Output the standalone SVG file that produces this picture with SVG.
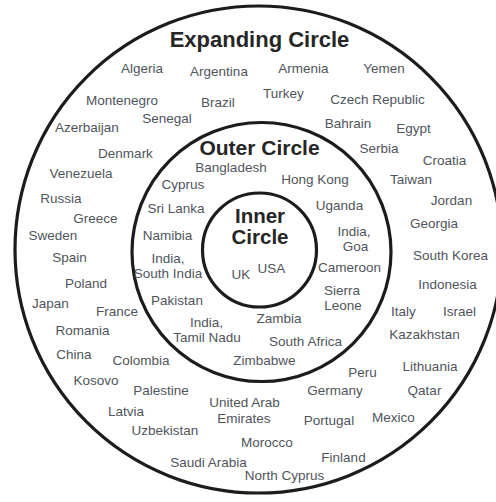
<svg xmlns="http://www.w3.org/2000/svg" width="496" height="502" viewBox="0 0 496 502">
<style>
.ring{fill:none;stroke:#1c1c1c;stroke-width:3.2}
.t{font-family:"Liberation Sans",Arial,sans-serif;font-size:13.5px;fill:#50555c;text-anchor:middle}
.h{font-family:"Liberation Sans",Arial,sans-serif;font-weight:bold;fill:#262626;text-anchor:middle}
</style>
<rect width="496" height="502" fill="#ffffff"/>
<g id="expanding-circle">
<circle class="ring" cx="258.5" cy="249.5" r="243.5"/>
<text class="h" x="259.5" y="47" font-size="22">Expanding Circle</text>
</g>
<g id="outer-circle">
<circle class="ring" cx="261.5" cy="252" r="129.5"/>
<text class="h" x="259.5" y="155" font-size="21">Outer Circle</text>
</g>
<g id="inner-circle">
<circle class="ring" cx="259.5" cy="250" r="57"/>
<text class="h" x="260" y="223" font-size="20.5">Inner</text>
<text class="h" x="260" y="244" font-size="20.5">Circle</text>
</g>
<g id="inner-labels">
<text class="t" x="271.5" y="273">USA</text>
<text class="t" x="241" y="279">UK</text>
</g>
<g id="outer-labels">
<text class="t" x="231" y="172">Bangladesh</text>
<text class="t" x="183" y="189">Cyprus</text>
<text class="t" x="315" y="184">Hong Kong</text>
<text class="t" x="176" y="213">Sri Lanka</text>
<text class="t" x="339.5" y="210">Uganda</text>
<text class="t" x="167.5" y="240">Namibia</text>
<text class="t" x="354" y="236">India,</text>
<text class="t" x="355.5" y="251">Goa</text>
<text class="t" x="168" y="263">India,</text>
<text class="t" x="168" y="278">South India</text>
<text class="t" x="349.5" y="272">Cameroon</text>
<text class="t" x="177" y="305">Pakistan</text>
<text class="t" x="342" y="294.5">Sierra</text>
<text class="t" x="343" y="310">Leone</text>
<text class="t" x="206.5" y="327">India,</text>
<text class="t" x="207" y="342">Tamil Nadu</text>
<text class="t" x="279" y="323">Zambia</text>
<text class="t" x="305.5" y="346">South Africa</text>
<text class="t" x="264.5" y="365">Zimbabwe</text>
</g>
<g id="expanding-labels">
<text class="t" x="142" y="73">Algeria</text>
<text class="t" x="219" y="76">Argentina</text>
<text class="t" x="303.5" y="73">Armenia</text>
<text class="t" x="384" y="73">Yemen</text>
<text class="t" x="122" y="105">Montenegro</text>
<text class="t" x="218" y="107">Brazil</text>
<text class="t" x="283.5" y="98">Turkey</text>
<text class="t" x="377.5" y="104">Czech Republic</text>
<text class="t" x="167" y="123">Senegal</text>
<text class="t" x="87" y="132">Azerbaijan</text>
<text class="t" x="348" y="128">Bahrain</text>
<text class="t" x="413.5" y="133">Egypt</text>
<text class="t" x="125.5" y="158">Denmark</text>
<text class="t" x="379" y="153">Serbia</text>
<text class="t" x="444.5" y="165">Croatia</text>
<text class="t" x="81" y="178">Venezuela</text>
<text class="t" x="411" y="184">Taiwan</text>
<text class="t" x="61" y="203">Russia</text>
<text class="t" x="451.5" y="205">Jordan</text>
<text class="t" x="95.5" y="223">Greece</text>
<text class="t" x="434" y="228">Georgia</text>
<text class="t" x="53" y="240">Sweden</text>
<text class="t" x="69.5" y="262">Spain</text>
<text class="t" x="450.5" y="260">South Korea</text>
<text class="t" x="86" y="288">Poland</text>
<text class="t" x="447.5" y="289">Indonesia</text>
<text class="t" x="50.5" y="308">Japan</text>
<text class="t" x="117" y="316">France</text>
<text class="t" x="403.5" y="316">Italy</text>
<text class="t" x="459.5" y="316">Israel</text>
<text class="t" x="82.5" y="335">Romania</text>
<text class="t" x="424.5" y="339">Kazakhstan</text>
<text class="t" x="74" y="359">China</text>
<text class="t" x="141" y="365">Colombia</text>
<text class="t" x="430" y="371">Lithuania</text>
<text class="t" x="362.5" y="377">Peru</text>
<text class="t" x="96" y="385">Kosovo</text>
<text class="t" x="161" y="395">Palestine</text>
<text class="t" x="335" y="395">Germany</text>
<text class="t" x="424.5" y="395">Qatar</text>
<text class="t" x="244.5" y="407">United Arab</text>
<text class="t" x="244" y="423">Emirates</text>
<text class="t" x="126" y="416">Latvia</text>
<text class="t" x="329" y="425">Portugal</text>
<text class="t" x="393.5" y="422">Mexico</text>
<text class="t" x="165" y="435">Uzbekistan</text>
<text class="t" x="267" y="447">Morocco</text>
<text class="t" x="343.5" y="462">Finland</text>
<text class="t" x="208.5" y="467">Saudi Arabia</text>
<text class="t" x="284.5" y="480">North Cyprus</text>
</g>
</svg>
